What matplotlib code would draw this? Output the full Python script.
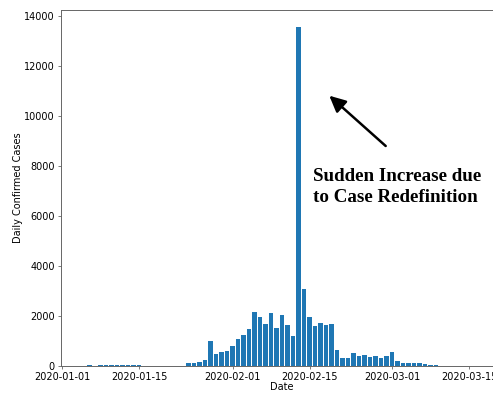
import numpy as np
import pandas as pd
import matplotlib
matplotlib.use('Agg')
import matplotlib.pyplot as plt
import matplotlib.dates as mdates

# daily confirmed cases, one value per day starting 2020-01-02
start_date = '2020-01-02'
jan_early = [10, 10, 10, 10, 30, 20, 30, 30, 40, 30, 30, 30, 30, 30]
jan_gap = [0, 0, 0, 0, 0, 0, 0, 0]
jan_late = [130, 140, 150, 260, 1000, 470, 550, 590]
feb = [800, 1080, 1240, 1480, 2180, 1960, 1690, 2120, 1540, 2040, 1650, 1200,
       13560, 3070, 1960, 1600, 1720, 1630, 1670, 630, 340, 340, 540, 400,
       460, 380, 390, 310, 410]
mar = [560, 190, 110, 120, 130, 130, 80, 40, 40, 20, 15, 10, 10, 10]

cases = jan_early + jan_gap + jan_late + feb + mar
dates = pd.date_range(start_date, periods=len(cases), freq='D')

tick_labels = ['2020-01-01', '2020-01-15', '2020-02-01',
               '2020-02-15', '2020-03-01', '2020-03-15']

fig = plt.figure(figsize=(4.93, 3.94), dpi=100)
ax = fig.add_axes([61 / 493, 28 / 394, 441 / 493, 356 / 394])

ax.bar(dates, cases, width=0.8, color='#1f77b4')

ax.set_xlim(pd.Timestamp('2020-01-01') - pd.Timedelta(hours=5),
            pd.Timestamp('2020-03-21'))
ax.set_ylim(0, 14240)
ax.set_yticks(np.arange(0, 14001, 2000))
ax.set_xticks(pd.to_datetime(tick_labels))
ax.xaxis.set_major_formatter(mdates.DateFormatter('%Y-%m-%d'))

for s in ax.spines.values():
    s.set_color('0.4')
    s.set_linewidth(0.7)
ax.tick_params(labelsize=7, length=2.5, width=0.6, color='0.4', pad=2)

ax.set_xlabel('Date', fontsize=7, labelpad=0)
ax.set_ylabel('Daily Confirmed Cases', fontsize=7, labelpad=1)

# baseline of the last line sits at y = 202 px from the top
fig.text(313 / 493, 1 - 202.3 / 394,
         'Sudden Increase due\nto Case Redefinition',
         family='Liberation Serif', weight='bold', fontsize=13.7,
         ha='left', va='baseline', linespacing=1.3)

ax.annotate('', xy=(329.3, 394 - 95.7), xytext=(385.7, 394 - 146),
            xycoords='figure pixels', textcoords='figure pixels',
            arrowprops=dict(arrowstyle='-|>,head_length=0.7,head_width=0.34',
                            mutation_scale=14, color='black', lw=1.8,
                            shrinkA=0, shrinkB=0))

plt.savefig('out.png', dpi=100)
